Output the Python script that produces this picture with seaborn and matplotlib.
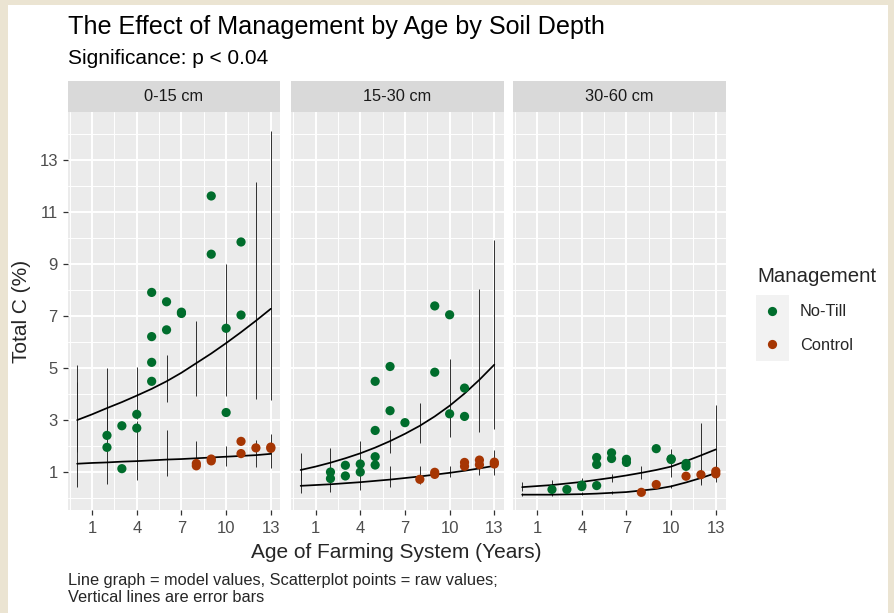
import numpy as np
import pandas as pd
import matplotlib
matplotlib.use('Agg')
import matplotlib.pyplot as plt
from matplotlib.patches import Rectangle
import seaborn as sns

# facet labels and management groups
depths = ['0-15 cm', '15-30 cm', '30-60 cm']
managements = ['No-Till', 'Control']
colors = {'No-Till': '#006d2c', 'Control': '#a63603'}

# raw values (scatter points)
notill_age_0_15 = [2, 2, 3, 3, 4, 4, 5, 5, 5, 5, 6, 6, 7, 7, 9, 9, 10, 10, 11, 11]
notill_c_0_15 = [2.41, 1.95, 2.78, 1.13, 3.22, 2.69, 7.91, 6.21, 5.22, 4.49, 7.55, 6.47, 7.10, 7.15, 11.62, 9.38, 6.53, 3.29, 9.85, 7.04]
control_age_0_15 = [8, 8, 9, 9, 11, 11, 12, 13, 13]
control_c_0_15 = [1.33, 1.24, 1.50, 1.43, 2.18, 1.71, 1.93, 1.96, 1.91]

notill_age_15_30 = [2, 2, 3, 3, 4, 4, 5, 5, 5, 5, 6, 6, 7, 9, 9, 10, 10, 11, 11]
notill_c_15_30 = [1.00, 0.75, 1.26, 0.85, 1.31, 1.00, 4.49, 2.60, 1.59, 1.27, 5.06, 3.36, 2.90, 7.39, 4.84, 7.05, 3.24, 4.23, 3.14]
control_age_15_30 = [8, 9, 9, 11, 11, 12, 12, 13, 13]
control_c_15_30 = [0.72, 0.99, 0.91, 1.37, 1.22, 1.46, 1.28, 1.38, 1.31]

notill_age_30_60 = [2, 3, 4, 4, 5, 5, 5, 6, 6, 7, 7, 9, 10, 10, 11, 11]
notill_c_30_60 = [0.33, 0.33, 0.50, 0.44, 1.56, 1.29, 0.48, 1.74, 1.52, 1.49, 1.37, 1.90, 1.51, 1.48, 1.33, 1.22]
control_age_30_60 = [8, 9, 11, 12, 13, 13]
control_c_30_60 = [0.22, 0.52, 0.84, 0.90, 1.03, 0.93]

# model values (lines)
fit_age = [0, 1, 2, 3, 4, 5, 6, 7, 8, 9, 10, 11, 12, 13]
notill_fit_0_15 = [3.00, 3.22, 3.46, 3.69, 3.94, 4.20, 4.49, 4.82, 5.19, 5.56, 5.96, 6.38, 6.82, 7.28]
control_fit_0_15 = [1.32, 1.35, 1.37, 1.40, 1.42, 1.45, 1.48, 1.50, 1.53, 1.56, 1.59, 1.62, 1.65, 1.70]
notill_fit_15_30 = [1.08, 1.21, 1.36, 1.53, 1.72, 1.94, 2.19, 2.47, 2.78, 3.14, 3.55, 4.02, 4.55, 5.13]
control_fit_15_30 = [0.47, 0.50, 0.53, 0.57, 0.61, 0.66, 0.71, 0.77, 0.83, 0.90, 0.97, 1.05, 1.14, 1.24]
notill_fit_30_60 = [0.42, 0.46, 0.50, 0.56, 0.62, 0.70, 0.78, 0.87, 0.97, 1.08, 1.21, 1.42, 1.64, 1.87]
control_fit_30_60 = [0.13, 0.13, 0.13, 0.14, 0.15, 0.17, 0.20, 0.23, 0.29, 0.35, 0.45, 0.60, 0.77, 0.96]

# error bars (lower, upper)
err_age = [0, 2, 4, 6, 8, 10, 12, 13]
notill_lo_0_15 = [1.78, 2.40, 3.05, 3.68, 3.91, 3.91, 3.82, 3.78]
notill_hi_0_15 = [5.10, 5.01, 5.05, 5.50, 6.81, 9.00, 12.15, 14.13]
control_lo_0_15 = [0.43, 0.53, 0.68, 0.86, 1.12, 1.25, 1.21, 1.15]
control_hi_0_15 = [4.48, 3.72, 2.95, 2.60, 2.20, 2.02, 2.24, 2.47]
notill_lo_15_30 = [0.68, 0.96, 1.35, 1.74, 2.10, 2.33, 2.55, 2.65]
notill_hi_15_30 = [1.74, 1.92, 2.18, 2.62, 3.64, 5.35, 8.04, 9.91]
control_lo_15_30 = [0.19, 0.23, 0.32, 0.42, 0.53, 0.80, 0.87, 0.87]
control_hi_15_30 = [1.10, 1.12, 1.10, 1.23, 1.22, 1.24, 1.61, 1.83]
notill_lo_30_60 = [0.28, 0.36, 0.50, 0.63, 0.74, 0.82, 0.57, 0.95]
notill_hi_30_60 = [0.60, 0.69, 0.76, 0.91, 1.23, 1.88, 2.90, 3.56]
control_lo_30_60 = [0.09, 0.09, 0.10, 0.14, 0.20, 0.37, 0.50, 0.60]
control_hi_30_60 = [0.20, 0.20, 0.22, 0.27, 0.40, 0.50, 1.10, 1.47]

raw_sets = [
    (notill_age_0_15, notill_c_0_15, control_age_0_15, control_c_0_15),
    (notill_age_15_30, notill_c_15_30, control_age_15_30, control_c_15_30),
    (notill_age_30_60, notill_c_30_60, control_age_30_60, control_c_30_60),
]
fit_sets = [
    (notill_fit_0_15, control_fit_0_15),
    (notill_fit_15_30, control_fit_15_30),
    (notill_fit_30_60, control_fit_30_60),
]
err_sets = [
    (notill_lo_0_15, notill_hi_0_15, control_lo_0_15, control_hi_0_15),
    (notill_lo_15_30, notill_hi_15_30, control_lo_15_30, control_hi_15_30),
    (notill_lo_30_60, notill_hi_30_60, control_lo_30_60, control_hi_30_60),
]

raw_rows, fit_rows, err_rows = [], [], []
for depth, (na, nc, ca, cc) in zip(depths, raw_sets):
    raw_rows += [(depth, a, c, 'No-Till') for a, c in zip(na, nc)]
    raw_rows += [(depth, a, c, 'Control') for a, c in zip(ca, cc)]
for depth, (nf, cf) in zip(depths, fit_sets):
    fit_rows += [(depth, a, f, 'No-Till') for a, f in zip(fit_age, nf)]
    fit_rows += [(depth, a, f, 'Control') for a, f in zip(fit_age, cf)]
for depth, (nlo, nhi, clo, chi) in zip(depths, err_sets):
    err_rows += [(depth, a, lo, hi, 'No-Till') for a, lo, hi in zip(err_age, nlo, nhi)]
    err_rows += [(depth, a, lo, hi, 'Control') for a, lo, hi in zip(err_age, clo, chi)]

raw_df = pd.DataFrame(raw_rows, columns=['Depth', 'Age', 'TotalC', 'Management'])
fit_df = pd.DataFrame(fit_rows, columns=['Depth', 'Age', 'Fit', 'Management'])
err_df = pd.DataFrame(err_rows, columns=['Depth', 'Age', 'Lo', 'Hi', 'Management'])

sns.set_theme(style='white')
plt.rcParams['font.family'] = ['Liberation Sans', 'DejaVu Sans']

W, H = 894, 613
fig = plt.figure(figsize=(W / 100, H / 100), dpi=100, facecolor='#ebe4d2')
fig.add_artist(Rectangle((8 / W, 0), 880 / W, 1 - 5 / H, transform=fig.transFigure,
                         facecolor='white', edgecolor='none', zorder=-10))

def fx(px):
    return px / W

def fy(py):
    return 1 - py / H

panel_left = [67.5, 291, 512.5]
panel_w = 213
panel_top, panel_bottom = 112, 510
strip_top = 81
pt_size = 44

for i, depth in enumerate(depths):
    ax = fig.add_axes([fx(panel_left[i]), fy(panel_bottom), panel_w / W, (panel_bottom - panel_top) / H])
    ax.set_facecolor('#ebebeb')
    sub_err = err_df[err_df['Depth'] == depth]
    ax.vlines(sub_err['Age'], sub_err['Lo'], sub_err['Hi'], color='#222222', lw=0.65, zorder=2)
    sns.lineplot(data=fit_df[fit_df['Depth'] == depth], x='Age', y='Fit', units='Management',
                 estimator=None, color='black', lw=1.25, ax=ax, legend=False, zorder=3)
    sns.scatterplot(data=raw_df[raw_df['Depth'] == depth], x='Age', y='TotalC', hue='Management',
                    hue_order=managements, palette=colors, s=pt_size, linewidth=0, ax=ax,
                    legend=False, zorder=4)
    ax.set_xlim(-0.65, 13.65)
    ax.set_ylim(-0.46, 14.85)
    ax.set_xticks([1, 4, 7, 10, 13])
    ax.set_xticks([-0.5, 2.5, 5.5, 8.5, 11.5], minor=True)
    ax.set_yticks([1, 3, 5, 7, 9, 11, 13])
    ax.set_yticks(np.arange(0, 15, 2), minor=True)
    ax.grid(which='major', color='white', lw=1.4)
    ax.grid(which='minor', color='white', lw=0.7)
    ax.set_axisbelow(True)
    for s in ax.spines.values():
        s.set_visible(False)
    ax.tick_params(which='major', length=3.5, width=0.9, color='#333333',
                   labelsize=12, labelcolor='#4d4d4d', pad=4.5)
    ax.tick_params(which='minor', length=0)
    ax.tick_params(axis='x', bottom=True)
    if i == 0:
        ax.tick_params(axis='y', left=True, pad=3.5)
    else:
        ax.tick_params(axis='y', left=False, labelleft=False)
    ax.set_xlabel('')
    ax.set_ylabel('')

    sax = fig.add_axes([fx(panel_left[i]), fy(panel_top), panel_w / W, (panel_top - strip_top) / H])
    sax.set_facecolor('#d9d9d9')
    sax.set_xticks([])
    sax.set_yticks([])
    for s in sax.spines.values():
        s.set_visible(False)
    sax.text(0.5, 0.5, depth, ha='center', va='center', fontsize=11.8, color='#1a1a1a',
             transform=sax.transAxes)

# titles and labels
fig.text(fx(68), fy(27), 'The Effect of Management by Age by Soil Depth', fontsize=18.1,
         ha='left', va='center', color='black')
fig.text(fx(68), fy(59), 'Significance: p < 0.04', fontsize=15, ha='left', va='center', color='black')
fig.text(fx(396), fy(552), 'Age of Farming System (Years)', fontsize=15, ha='center', va='center')
fig.text(fx(22), fy(311), 'Total C (%)', fontsize=15, ha='center', va='center', rotation=90)
fig.text(fx(68), fy(580), 'Line graph = model values, Scatterplot points = raw values;',
         fontsize=11.8, ha='left', va='center')
fig.text(fx(68), fy(597.5), 'Vertical lines are error bars', fontsize=11.8, ha='left', va='center')

# legend
fig.text(fx(757), fy(276), 'Management', fontsize=14.7, ha='left', va='center')
leg_ax = fig.add_axes([fx(756), fy(361), 33 / W, 66 / H])
leg_ax.set_facecolor('#f2f2f2')
leg_df = pd.DataFrame({'x': [0.5, 0.5], 'y': [1.5, 0.5], 'Management': managements})
sns.scatterplot(data=leg_df, x='x', y='y', hue='Management', hue_order=managements, palette=colors,
                s=pt_size, linewidth=0, ax=leg_ax, legend=False)
leg_ax.set_xlim(0, 1)
leg_ax.set_ylim(0, 2)
leg_ax.set_xticks([])
leg_ax.set_yticks([])
leg_ax.set_xlabel('')
leg_ax.set_ylabel('')
for s in leg_ax.spines.values():
    s.set_visible(False)
for lbl, py in zip(managements, [312, 346]):
    fig.text(fx(800), fy(py), lbl, fontsize=11.8, ha='left', va='center')

fig.savefig('out.png', dpi=100, facecolor=fig.get_facecolor())
